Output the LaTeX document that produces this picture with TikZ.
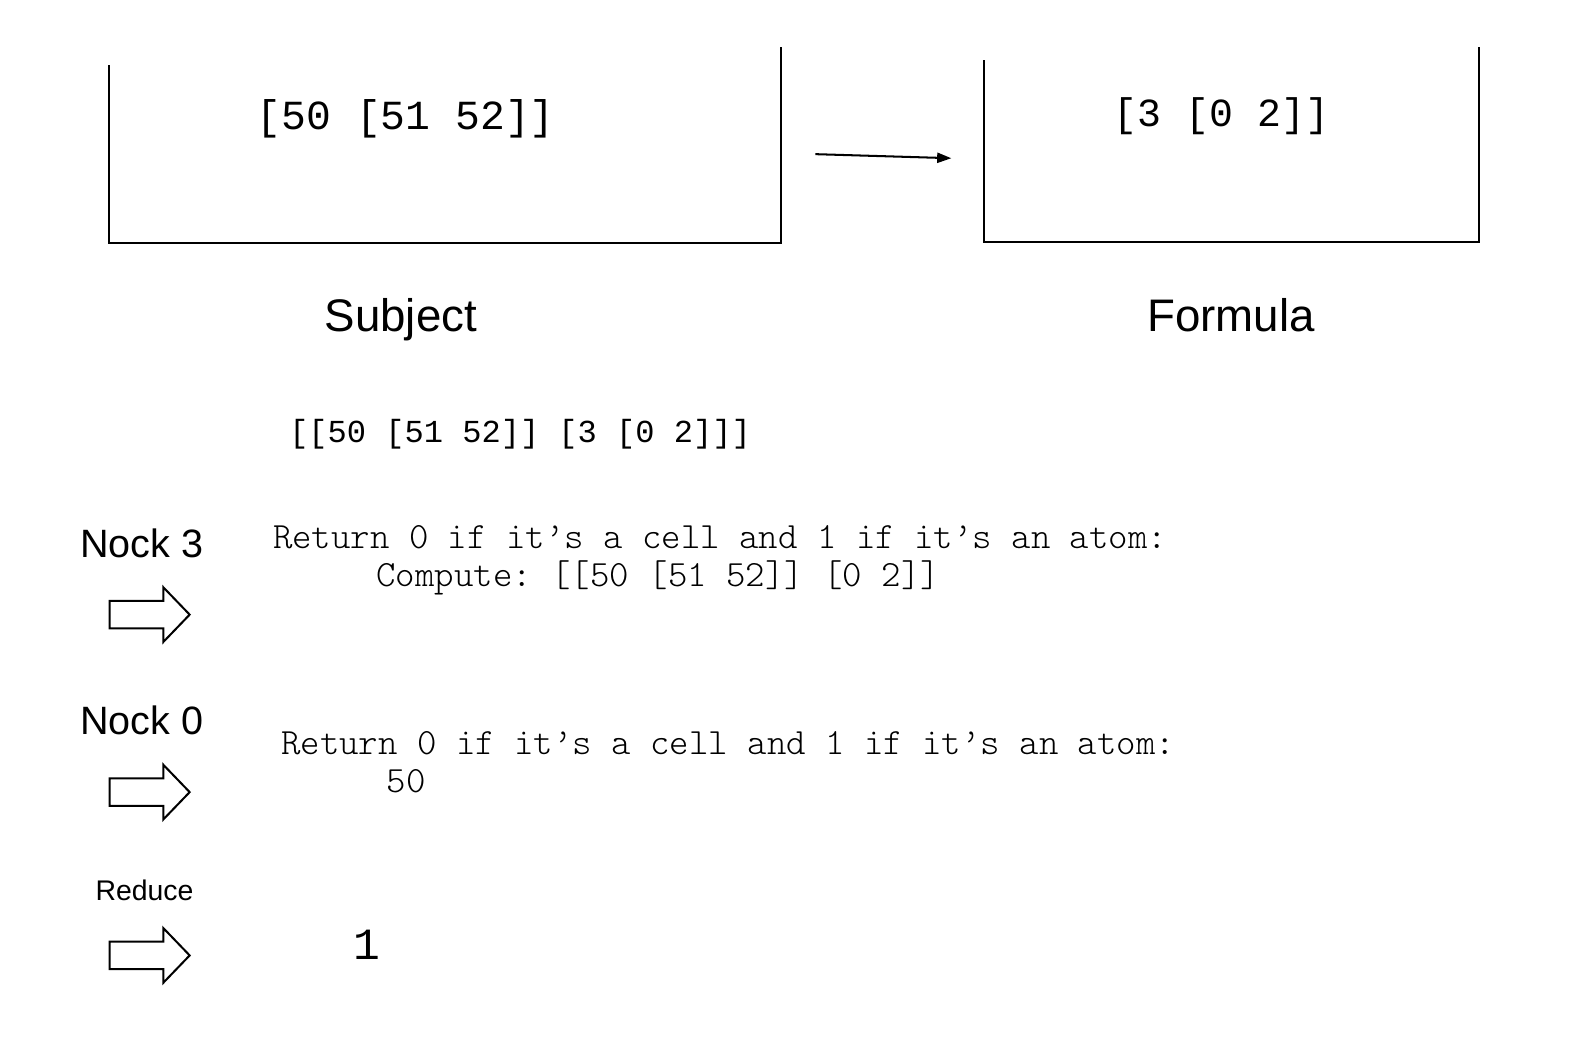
\documentclass[tikz,border=0pt]{standalone}
\usepackage{fontspec}
\setmainfont{Liberation Sans}
\newfontfamily\libmono{Liberation Mono}
\newfontfamily\lmlight{Latin Modern Mono Light}
\usetikzlibrary{arrows.meta}
\frenchspacing
\tikzset{
  boxline/.style={line width=2pt, line cap=rect},
  blockarrow/.style={draw, line width=2pt, line join=miter, fill=white},
  labeltxt/.style={anchor=base west, inner sep=0pt, font=\fontsize{45}{54}\selectfont},
  nocktxt/.style={anchor=base west, inner sep=0pt, font=\fontsize{39}{47}\selectfont},
  codetxt/.style={anchor=base west, inner sep=0pt, font=\lmlight\fontsize{36.5}{44}\selectfont},
  boxtxt/.style={anchor=base west, inner sep=0pt, font=\libmono\fontsize{40.8}{48}\selectfont},
}
\begin{document}
\begin{tikzpicture}[x=1pt,y=-1pt]
\useasboundingbox (0,0) rectangle (1567.7,1041.2);
% boxes
\draw[boxline] (107,65) -- (107,240) -- (770,240) -- (770,47);
\draw[boxline] (970,60) -- (970,239) -- (1458,239) -- (1458,47);
\node[boxtxt] (subjval) at (253,128) {[50 [51 52]]};
\node[boxtxt, font=\libmono\fontsize{39.3}{46}\selectfont] (formval) at (1098,125) {[3 [0 2]]};
% connector
\coordinate (arrS) at (804,152);
\coordinate (arrE) at (938,156);
\draw[line width=2pt, -{Triangle[length=14pt,width=10pt]}] (arrS) -- (arrE);
% labels
\node[labeltxt] (subj) at (320,327) {Subject};
\node[labeltxt] (form) at (1131,327) {Formula};
\node[boxtxt, font=\libmono\fontsize{31.6}{38}\selectfont] (full) at (285,436) {[[50 [51 52]] [3 [0 2]]]};
% steps
\node[nocktxt] (n3) at (79,550) {Nock 3};
\node[codetxt] (c1a) at (269,541) {Return 0 if it’s a cell and 1 if it’s an atom:};
\node[codetxt] (c1b) at (371,578) {Compute: [[50 [51 52]] [0 2]]};
\node[nocktxt] (n0) at (79,724) {Nock 0};
\node[codetxt] (c2a) at (277,744) {Return 0 if it’s a cell and 1 if it’s an atom:};
\node[codetxt] (c2b) at (381,781) {50};
\node[nocktxt, font=\fontsize{28}{34}\selectfont] (red) at (94,888) {Reduce};
\node[boxtxt, font=\libmono\fontsize{44}{52}\selectfont] (res) at (348,946) {1};
% block arrows
\foreach \n/\yy in {ba1/606, ba2/781, ba3/942}{
  \coordinate (\n) at (108,\yy);
  \draw[blockarrow] (\n) ++(0,-13.5) -- ++(53,0) -- ++(0,-13.5) -- ++(26,27) -- ++(-26,27) -- ++(0,-13.5) -- ++(-53,0) -- cycle;
}
\end{tikzpicture}
\end{document}
